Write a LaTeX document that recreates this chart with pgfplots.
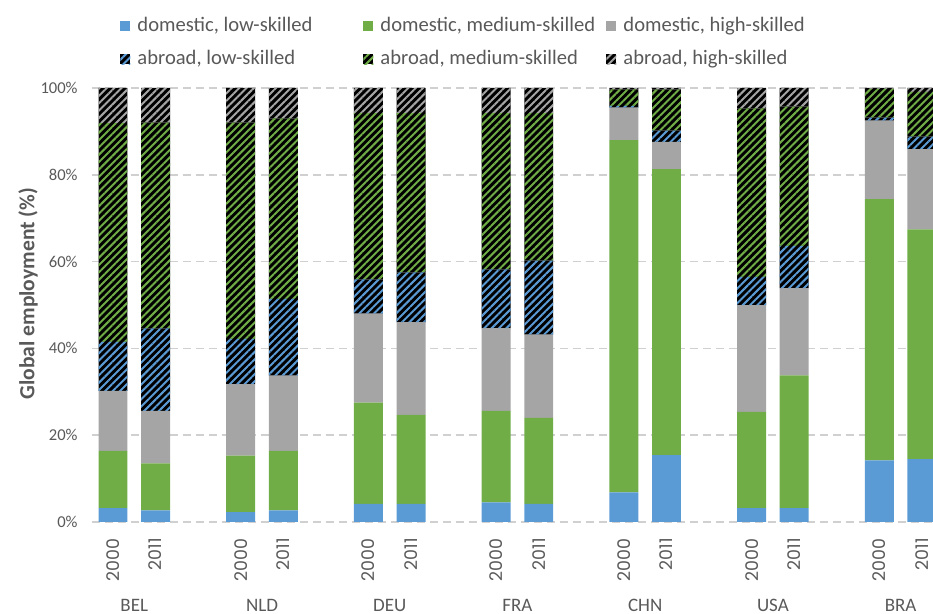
\documentclass[border=0pt]{standalone}
\usepackage{fontspec}
\setmainfont{Carlito}
\newfontfamily\yearfont{Poppins}
\usepackage{pgfplots}
\usepackage{pgfplotstable}
\pgfplotsset{compat=1.18}
\usetikzlibrary{patterns.meta}

\definecolor{xblue}{HTML}{5B9BD5}
\definecolor{xgreen}{HTML}{70AD47}
\definecolor{xgray}{HTML}{A5A5A5}
\definecolor{txt}{HTML}{595959}
\definecolor{gridc}{HTML}{D0D0D0}

% shares of global employment (%), slots: 2000/2011 per country, gap slot between
\pgfplotstableread{
x  dlow dmed dhigh alow amed ahigh
0  3.2  13.2 13.8  11.3 50.4 8.1
1  2.7  10.8 12.1  19.0 47.4 8.0
3  2.3  13.0 16.4  10.5 49.8 8.0
4  2.7  13.7 17.3  17.7 41.6 7.0
6  4.2  23.3 20.5  7.9  38.3 5.8
7  4.2  20.5 21.3  11.5 36.7 5.8
9  4.5  21.1 19.0  13.6 36.0 5.8
10 4.2  19.8 19.2  17.0 34.0 5.8
12 6.8  81.2 7.5   0.4  3.8  0.3
13 15.4 65.9 6.3   2.6  9.4  0.4
15 3.2  22.2 24.5  6.6  38.8 4.7
16 3.2  30.6 20.0  9.8  32.1 4.3
18 14.2 60.2 18.1  0.7  6.6  0.2
19 14.5 52.9 18.5  2.9  10.3 0.9
}\data

\tikzset{
  hatch/.style={fill=black, draw=none,
    postaction={pattern={Lines[angle=45,distance=2.6pt,line width=1.0pt]}, pattern color=#1}},
}

\begin{document}
\begin{tikzpicture}
\begin{axis}[
    at={(0,0)}, anchor=south west,
    scale only axis,
    width=420.645pt, height=217pt,
    ybar stacked,
    bar width=0.68,
    xmin=-0.5, xmax=19.26,
    ymin=0, ymax=100,
    ytick={0,20,...,100},
    yticklabel={\pgfmathprintnumber{\tick}\%},
    /pgf/number format/assume math mode=true,
    axis line style={draw=none},
    major tick length=0pt,
    ymajorgrids,
    grid style={gridc, line width=0.75pt, dash pattern=on 4pt off 2.5pt},
    yticklabel style={anchor=east, inner sep=0pt, xshift=-6.85pt,
      font=\fontsize{8.3}{10}\selectfont, text=txt},
    xtick={0,1,3,4,6,7,9,10,12,13,15,16,18,19},
    xticklabels={2000,2011,2000,2011,2000,2011,2000,2011,2000,2011,2000,2011,2000,2011},
    xticklabel style={yshift=-8pt, rotate=90, anchor=east, inner sep=0pt,
      font=\yearfont\fontsize{8.7}{10}\selectfont, text=txt},
    extra x ticks={0.5,3.5,6.5,9.5,12.5,15.5,18.5},
    extra x tick labels={BEL,NLD,DEU,FRA,CHN,USA,BRA},
    extra x tick style={
      every x tick label/.style={anchor=center, inner sep=0pt, yshift=-41.5pt,
        font=\fontsize{9.5}{11}\selectfont, text=txt},
      grid=none},
    ylabel={\textbf{Global employment (\%)}},
    every axis y label/.style={at={(axis description cs:-0.0757,0.526)}, rotate=90,
      anchor=center, font=\fontsize{10.8}{12}\selectfont, text=txt},
    legend columns=3,
    legend style={draw=none, fill=none, at={(axis description cs:0.0337,1.1636)},
      anchor=north west, inner sep=0pt, column sep=0pt, row sep=7.5pt,
      font=\fontsize{10.3}{12}\selectfont, text=txt,
      nodes={inner sep=0pt, text height=7pt, text depth=2pt}},
    legend cell align=left,
    legend image code/.code={\path[#1] (0pt,-2.5pt) rectangle (5pt,2.5pt);},
]
\addplot[fill=xblue, draw=none] table[x=x, y=dlow] {\data};
\addplot[fill=xgreen, draw=none] table[x=x, y=dmed] {\data};
\addplot[fill=xgray, draw=none] table[x=x, y=dhigh] {\data};
\addplot[hatch=xblue] table[x=x, y=alow] {\data};
\addplot[hatch=xgreen] table[x=x, y=amed] {\data};
\addplot[hatch=xgray] table[x=x, y=ahigh] {\data};
\addlegendentry{\makebox[116.5pt][l]{\hspace{3.5pt}domestic, low-skilled}}
\addlegendentry{\makebox[116.5pt][l]{\hspace{3.5pt}domestic, medium-skilled}}
\addlegendentry{\makebox[116.5pt][l]{\hspace{3.5pt}domestic, high-skilled}}
\addlegendentry{\makebox[116.5pt][l]{\hspace{3.5pt}abroad, low-skilled}}
\addlegendentry{\makebox[116.5pt][l]{\hspace{3.5pt}abroad, medium-skilled}}
\addlegendentry{\makebox[116.5pt][l]{\hspace{3.5pt}abroad, high-skilled}}
\end{axis}
\pgfresetboundingbox
\useasboundingbox (-45.855pt,-46pt) rectangle (420.645pt,261pt);
\end{tikzpicture}
\end{document}
